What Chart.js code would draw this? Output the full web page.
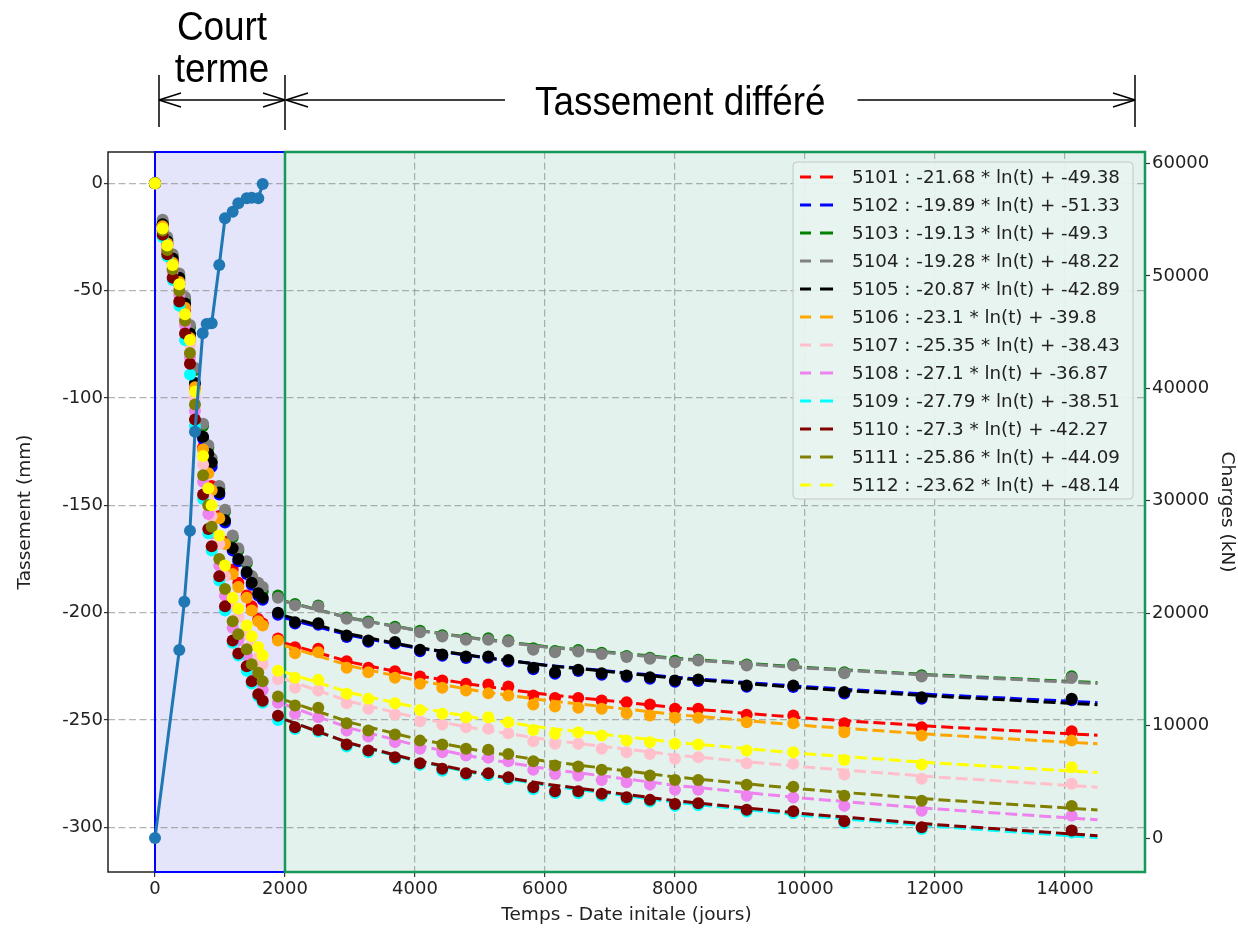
<!DOCTYPE html>
<html lang="fr">
<head>
<meta charset="utf-8">
<title>Tassement et charges</title>
<script src="https://cdn.jsdelivr.net/npm/chart.js"></script>
<style>
  html, body { margin: 0; padding: 0; background: #fff; }
  #wrap { position: relative; width: 1238px; height: 930px; }
</style>
</head>
<body>
<div id="wrap"><canvas id="chart"></canvas></div>
<script>
// temps depuis la date initiale (jours) : court terme puis tassement différé
const tCourt = [0, 118, 189, 272, 374, 462, 538, 615, 740, 820, 872, 989, 1077, 1195, 1282, 1411, 1488, 1589, 1657, 1892];
const tDiff = [2154, 2512, 2949, 3282, 3692, 4077, 4420, 4785, 5128, 5436, 5820, 6154, 6512, 6872, 7256, 7615, 8000, 8358, 9103, 9820, 10605, 11795, 14103];

const piles = ['5101', '5102', '5103', '5104', '5105', '5106', '5107', '5108', '5109', '5110', '5111', '5112'];
const couleurs = ['#ff0000', '#0000ff', '#008000', '#808080', '#000000', '#ffa500', '#ffc0cb', '#ee82ee', '#00ffff', '#800000', '#808000', '#ffff00'];

// tassements mesurés (mm)
const p5101 = [0, -20, -29, -37, -47, -59, -73, -96, -123, -134, -141, -155, -167, -180, -186, -192, -197, -203, -205, -212,
  -216.1, -216.8, -222.6, -225.7, -227.3, -229.7, -231.6, -233.1, -233.5, -234.4, -238.6, -239.7, -239.7, -240.9, -241.7, -242.8, -244.8, -244.8, -247.6, -247.9, -251.5, -253.4, -255.2];
const p5102 = [0, -19, -28, -36, -45, -57, -71, -94, -119, -127, -132, -145, -158, -171, -176, -182, -187, -192, -194, -201,
  -205.0, -205.6, -211.3, -213.6, -214.4, -218.0, -220.1, -221.1, -221.0, -222.7, -226.3, -228.4, -227.2, -228.9, -229.9, -230.8, -232.2, -231.8, -234.5, -234.6, -237.6, -240.1, -240.8];
const p5103 = [0, -18, -26, -34, -43, -54, -67, -87, -113, -123, -130, -142, -153, -165, -171, -177, -183, -187, -190, -192,
  -196.0, -196.6, -202.3, -204.1, -206.6, -208.4, -210.5, -212.0, -211.9, -212.9, -216.6, -217.9, -217.4, -218.7, -220.2, -221.0, -222.4, -221.9, -224.1, -224.0, -227.7, -229.1, -229.6];
const p5104 = [0, -17, -25, -33, -42, -53, -66, -86, -112, -122, -128, -141, -152, -164, -170, -176, -183, -186, -188, -193,
  -196.6, -197.1, -202.8, -204.7, -207.2, -209.1, -211.1, -212.6, -212.6, -213.4, -217.3, -218.4, -218.1, -219.2, -220.7, -221.5, -223.1, -222.3, -224.6, -224.6, -228.2, -229.7, -230.3];
const p5105 = [0, -19, -27, -35, -44, -56, -70, -93, -118, -126, -130, -144, -157, -170, -175, -181, -186, -191, -193, -200,
  -204.4, -204.9, -210.6, -213.0, -213.7, -217.3, -219.5, -220.4, -220.4, -222.0, -225.7, -227.7, -226.6, -228.2, -229.3, -230.1, -231.6, -231.1, -233.9, -233.9, -237.0, -239.4, -240.1];
const p5106 = [0, -20, -28, -37, -46, -58, -72, -95, -124, -135, -143, -156, -168, -182, -188, -193, -199, -204, -206, -213,
  -218.9, -218.4, -225.7, -227.7, -230.3, -233.1, -235.0, -236.3, -237.5, -238.6, -242.8, -243.7, -244.3, -244.8, -246.8, -247.9, -249.0, -249.0, -251.0, -251.5, -255.7, -257.2, -259.6];
const p5107 = [0, -22, -30, -39, -49, -63, -75, -100, -131, -147, -155, -168, -183, -197, -202, -210, -215, -221, -224, -231,
  -235.0, -236.3, -242.2, -244.8, -247.4, -250.6, -252.1, -253.4, -254.1, -256.2, -259.9, -261.1, -261.1, -263.4, -265.0, -265.8, -268.1, -267.3, -270.1, -270.4, -275.4, -277.4, -279.7];
const p5108 = [0, -23, -32, -41, -52, -66, -81, -106, -139, -154, -163, -178, -192, -207, -213, -220, -227, -232, -236, -242,
  -247.1, -248.7, -254.9, -257.7, -260.3, -263.4, -265.0, -266.5, -267.6, -269.2, -273.2, -275.1, -275.9, -277.9, -279.0, -280.1, -282.5, -282.5, -285.3, -286.1, -290.0, -292.3, -294.6];
const p5109 = [0, -25, -34, -45, -57, -73, -89, -113, -147, -163, -171, -185, -199, -214, -220, -227, -233, -239, -242, -250,
  -254.2, -255.3, -262.3, -265.0, -268.1, -270.9, -273.6, -275.5, -275.7, -277.5, -282.2, -284.0, -284.1, -285.3, -286.9, -288.0, -290.0, -289.7, -292.6, -293.4, -298.0, -300.8, -302.4];
const p5110 = [0, -24, -33, -44, -55, -70, -84, -110, -145, -161, -169, -183, -197, -213, -219, -225, -232, -238, -241, -248,
  -253.4, -254.6, -261.4, -264.2, -267.3, -270.1, -272.7, -274.8, -274.8, -276.7, -281.3, -283.2, -283.2, -284.4, -286.0, -287.2, -289.1, -288.8, -291.8, -292.5, -297.2, -299.9, -301.5];
const p5111 = [0, -22, -31, -40, -50, -64, -79, -103, -136, -150, -160, -175, -189, -204, -210, -217, -224, -228, -232, -239,
  -243.2, -244.3, -251.5, -254.9, -256.8, -259.6, -261.4, -263.4, -263.9, -265.8, -269.2, -271.2, -271.7, -273.2, -274.3, -275.9, -277.9, -277.9, -280.2, -281.1, -285.3, -287.6, -290.0];
const p5112 = [0, -21, -29, -38, -47, -61, -73, -97, -127, -142, -150, -164, -178, -193, -198, -206, -211, -216, -220, -227,
  -230.3, -231.3, -237.8, -240.1, -242.2, -245.3, -247.1, -248.7, -248.7, -251.0, -254.6, -256.4, -255.7, -257.2, -259.6, -260.3, -261.1, -261.4, -264.2, -265.0, -268.6, -270.7, -272.0];

// courbes d'ajustement ln(t)
const tFit = [2000, 3000, 4000, 5000, 6000, 8000, 10000, 12000, 14500];
const fit5101 = [-214.2, -223.0, -229.2, -234.0, -238.0, -244.2, -249.1, -253.0, -257.1];
const fit5102 = [-202.5, -210.6, -216.3, -220.7, -224.4, -230.1, -234.5, -238.2, -241.9];
const fit5103 = [-194.7, -202.5, -208.0, -212.2, -215.7, -221.2, -225.5, -229.0, -232.6];
const fit5104 = [-194.8, -202.6, -208.1, -212.4, -216.0, -221.5, -225.8, -229.3, -233.0];
const fit5105 = [-201.5, -210.0, -216.0, -220.6, -224.5, -230.5, -235.1, -238.9, -242.9];
const fit5106 = [-215.4, -224.8, -231.4, -236.6, -240.8, -247.4, -252.6, -256.8, -261.1];
const fit5107 = [-231.1, -241.4, -248.7, -254.3, -259.0, -266.3, -271.9, -276.5, -281.3];
const fit5108 = [-242.9, -253.8, -261.6, -267.7, -272.6, -280.4, -286.5, -291.4, -296.5];
const fit5109 = [-249.7, -261.0, -269.0, -275.2, -280.3, -288.3, -294.5, -299.5, -304.8];
const fit5110 = [-249.8, -260.8, -268.7, -274.8, -279.8, -287.6, -293.7, -298.7, -303.9];
const fit5111 = [-240.7, -251.1, -258.6, -264.3, -269.1, -276.5, -282.3, -287.0, -291.9];
const fit5112 = [-227.7, -237.3, -244.0, -249.3, -253.6, -260.4, -265.7, -270.0, -274.5];
const fitLabels = [
  '5101 : -21.68 * ln(t) + -49.38', '5102 : -19.89 * ln(t) + -51.33', '5103 : -19.13 * ln(t) + -49.3',
  '5104 : -19.28 * ln(t) + -48.22', '5105 : -20.87 * ln(t) + -42.89', '5106 : -23.1 * ln(t) + -39.8',
  '5107 : -25.35 * ln(t) + -38.43', '5108 : -27.1 * ln(t) + -36.87', '5109 : -27.79 * ln(t) + -38.51',
  '5110 : -27.3 * ln(t) + -42.27', '5111 : -25.86 * ln(t) + -44.09', '5112 : -23.62 * ln(t) + -48.14'
];

// charges (kN), axe de droite
const tCharges = [0, 374, 451, 538, 615, 734, 795, 872, 989, 1077, 1195, 1282, 1411, 1488, 1589, 1657];
const charges = [0, 16720, 21020, 27340, 36140, 44890, 45720, 45780, 50970, 55120, 55710, 56460, 56900, 56950, 56900, 58180];

// bornes des zones et graduations
const zoneCourt = [0, 2000];
const xTicks = [0, 2000, 4000, 6000, 8000, 10000, 12000, 14000];
const yTicks = [-300, -250, -200, -150, -100, -50, 0];
const y2Ticks = [0, 10000, 20000, 30000, 40000, 50000, 60000];

const temps = tCourt.concat(tDiff);
const mesures = [p5101, p5102, p5103, p5104, p5105, p5106, p5107, p5108, p5109, p5110, p5111, p5112];
const ajustements = [fit5101, fit5102, fit5103, fit5104, fit5105, fit5106, fit5107, fit5108, fit5109, fit5110, fit5111, fit5112];

const FONT = 'DejaVu Sans';
const gridColor = 'rgba(128,128,128,0.6)';

const datasets = [];
piles.forEach((p, i) => {
  datasets.push({
    label: p,
    data: temps.map((t, k) => ({ x: t, y: mesures[i][k] })),
    showLine: false,
    yAxisID: 'y',
    pointRadius: 6,
    pointHoverRadius: 6,
    pointBackgroundColor: couleurs[i],
    pointBorderWidth: 0,
    borderColor: couleurs[i]
  });
  datasets.push({
    label: fitLabels[i],
    data: tFit.map((t, k) => ({ x: t, y: ajustements[i][k] })),
    showLine: true,
    yAxisID: 'y',
    pointRadius: 0,
    borderColor: couleurs[i],
    borderWidth: 3,
    borderDash: [12, 5],
    tension: 0,
    fill: false
  });
});
datasets.push({
  label: 'Charges',
  data: tCharges.map((t, k) => ({ x: t, y: charges[k] })),
  showLine: true,
  yAxisID: 'y2',
  borderColor: '#1f77b4',
  borderWidth: 3,
  pointRadius: 6,
  pointHoverRadius: 6,
  pointBackgroundColor: '#1f77b4',
  pointBorderWidth: 0,
  tension: 0
});
// le dernier tracé passe au-dessus
datasets.forEach((d, i) => { d.order = datasets.length - i; });

const zones = {
  id: 'zones',
  beforeDraw(chart) {
    const { ctx, chartArea: a, scales: { x } } = chart;
    const x0 = x.getPixelForValue(zoneCourt[0]);
    const x1 = x.getPixelForValue(zoneCourt[1]);
    ctx.save();
    ctx.fillStyle = '#fff';
    ctx.fillRect(0, 0, chart.width, chart.height);
    ctx.fillStyle = '#e4e4fa';
    ctx.fillRect(x0, a.top, x1 - x0, a.bottom - a.top);
    ctx.fillStyle = '#e3f2ec';
    ctx.fillRect(x1, a.top, a.right - x1, a.bottom - a.top);
    ctx.restore();
  },
  beforeDatasetsDraw(chart) {
    const { ctx, chartArea: a, scales: { x } } = chart;
    const x0 = x.getPixelForValue(zoneCourt[0]);
    const x1 = x.getPixelForValue(zoneCourt[1]);
    const h = a.bottom - a.top;
    ctx.save();
    ctx.lineWidth = 1.5;
    ctx.strokeStyle = '#222';
    ctx.strokeRect(a.left, a.top, a.right - a.left, h);
    ctx.lineWidth = 2;
    ctx.strokeStyle = '#0000ff';
    ctx.strokeRect(x0, a.top, x1 - x0, h);
    ctx.lineWidth = 2.5;
    ctx.strokeStyle = '#14995a';
    ctx.strokeRect(x1, a.top, a.right - x1, h);
    ctx.restore();
  },
  afterDraw(chart) {
    const { ctx, chartArea: a, scales: { x } } = chart;
    ctx.save();

    // légende des ajustements
    ctx.font = '18.3px "' + FONT + '"';
    const wTxt = Math.max(...fitLabels.map(t => ctx.measureText(t).width));
    const bw = wTxt + 72, bh = 337;
    const bx = a.right - 12 - bw, by = a.top + 10;
    ctx.beginPath();
    ctx.roundRect(bx, by, bw, bh, 4);
    ctx.fillStyle = 'rgba(232,244,239,0.92)';
    ctx.fill();
    ctx.strokeStyle = 'rgba(195,200,198,1)';
    ctx.lineWidth = 1;
    ctx.stroke();
    fitLabels.forEach((t, i) => {
      const yy = by + 15 + i * 28;
      ctx.strokeStyle = couleurs[i];
      ctx.lineWidth = 3;
      ctx.beginPath();
      ctx.moveTo(bx + 7, yy); ctx.lineTo(bx + 18, yy);
      ctx.moveTo(bx + 27, yy); ctx.lineTo(bx + 40, yy);
      ctx.stroke();
      ctx.fillStyle = '#222';
      ctx.textAlign = 'left';
      ctx.textBaseline = 'middle';
      ctx.fillText(t, bx + 59, yy + 1);
    });

    // repères court terme / tassement différé
    const xa = x.getPixelForValue(zoneCourt[0]) + 4;
    const xb = x.getPixelForValue(zoneCourt[1]);
    const xc = a.right - 10;
    const ya = 100;
    ctx.strokeStyle = '#000';
    ctx.lineWidth = 1.5;
    const seg = (x1, y1, x2, y2) => { ctx.beginPath(); ctx.moveTo(x1, y1); ctx.lineTo(x2, y2); ctx.stroke(); };
    const pointe = (px, dir) => {
      seg(px, ya, px - dir * 22, ya - 7);
      seg(px, ya, px - dir * 22, ya + 7);
    };
    seg(xa, 75, xa, 127);
    seg(xb, 75, xb, 130);
    seg(xc, 75, xc, 127);
    seg(xa, ya, xb, ya);
    pointe(xa, -1);
    pointe(xb, 1);
    pointe(xb + 1, -1);

    const sx = 0.9;
    ctx.font = '41px "Liberation Sans"';
    ctx.fillStyle = '#000';
    ctx.textAlign = 'center';
    ctx.textBaseline = 'alphabetic';
    const texte = (t, cx, base) => {
      ctx.save();
      ctx.translate(cx, base);
      ctx.scale(sx, 1);
      ctx.fillText(t, 0, 0);
      ctx.restore();
    };
    const xm = (xa + xb) / 2;
    texte('Court', xm, 40);
    texte('terme', xm, 82);
    const titre = 'Tassement différé';
    const wt = ctx.measureText(titre).width * sx;
    const cx = xb + 0.465 * (xc - xb);
    texte(titre, cx, 115);
    seg(xb + 1, ya, cx - wt / 2 - 30, ya);
    seg(cx + wt / 2 + 32, ya, xc, ya);
    pointe(xc, 1);
    ctx.restore();
  }
};

const tickFont = { family: FONT, size: 18 };
const titleFont = { family: FONT, size: 18.5 };

new Chart(document.getElementById('chart'), {
  type: 'scatter',
  data: { datasets },
  options: {
    responsive: true,
    maintainAspectRatio: false,
    animation: false,
    devicePixelRatio: 1,
    layout: { padding: { top: 152, left: 0, right: 0, bottom: 0 } },
    plugins: { legend: { display: false }, tooltip: { enabled: false } },
    scales: {
      x: {
        type: 'linear',
        position: 'bottom',
        bounds: 'data',
        min: -723,
        max: 15231,
        afterBuildTicks: ax => { ax.ticks = xTicks.map(v => ({ value: v })); },
        afterFit: ax => { ax.height = 58; },
        ticks: { callback: v => String(v), font: tickFont, color: '#222', padding: 2, maxRotation: 0, autoSkip: false },
        grid: { color: gridColor, lineWidth: 1.2, tickColor: '#333', tickLength: 5, tickWidth: 1.2, tickBorderDash: [] },
        border: { display: false, dash: [7, 3.5] },
        title: { display: true, text: 'Temps - Date initale (jours)', font: titleFont, color: '#222', padding: { top: 0, bottom: 4 } }
      },
      y: {
        type: 'linear',
        position: 'left',
        bounds: 'data',
        min: -320.8,
        max: 14.6,
        afterBuildTicks: ax => { ax.ticks = yTicks.map(v => ({ value: v })); },
        afterFit: ax => { ax.width = 108; },
        ticks: { callback: v => String(v), font: tickFont, color: '#222', padding: 1 },
        grid: { color: gridColor, lineWidth: 1.2, tickColor: '#333', tickLength: 4, tickWidth: 1.2, tickBorderDash: [] },
        border: { display: false, dash: [7, 3.5] },
        title: { display: true, text: 'Tassement (mm)', font: titleFont, color: '#222', padding: { top: 14, bottom: 0 } }
      },
      y2: {
        type: 'linear',
        position: 'right',
        bounds: 'data',
        min: -3024,
        max: 61021,
        afterBuildTicks: ax => { ax.ticks = y2Ticks.map(v => ({ value: v })); },
        afterFit: ax => { ax.width = 93; },
        ticks: { callback: v => String(v), font: tickFont, color: '#222', padding: 2 },
        grid: { drawOnChartArea: false, color: '#333', tickColor: '#333', tickLength: 5, tickWidth: 1.2, tickBorderDash: [] },
        border: { display: false },
        title: { display: true, text: 'Charges (kN)', font: titleFont, color: '#222', padding: { top: 0, bottom: 0 } }
      }
    }
  },
  plugins: [zones]
});
</script>
</body>
</html>
